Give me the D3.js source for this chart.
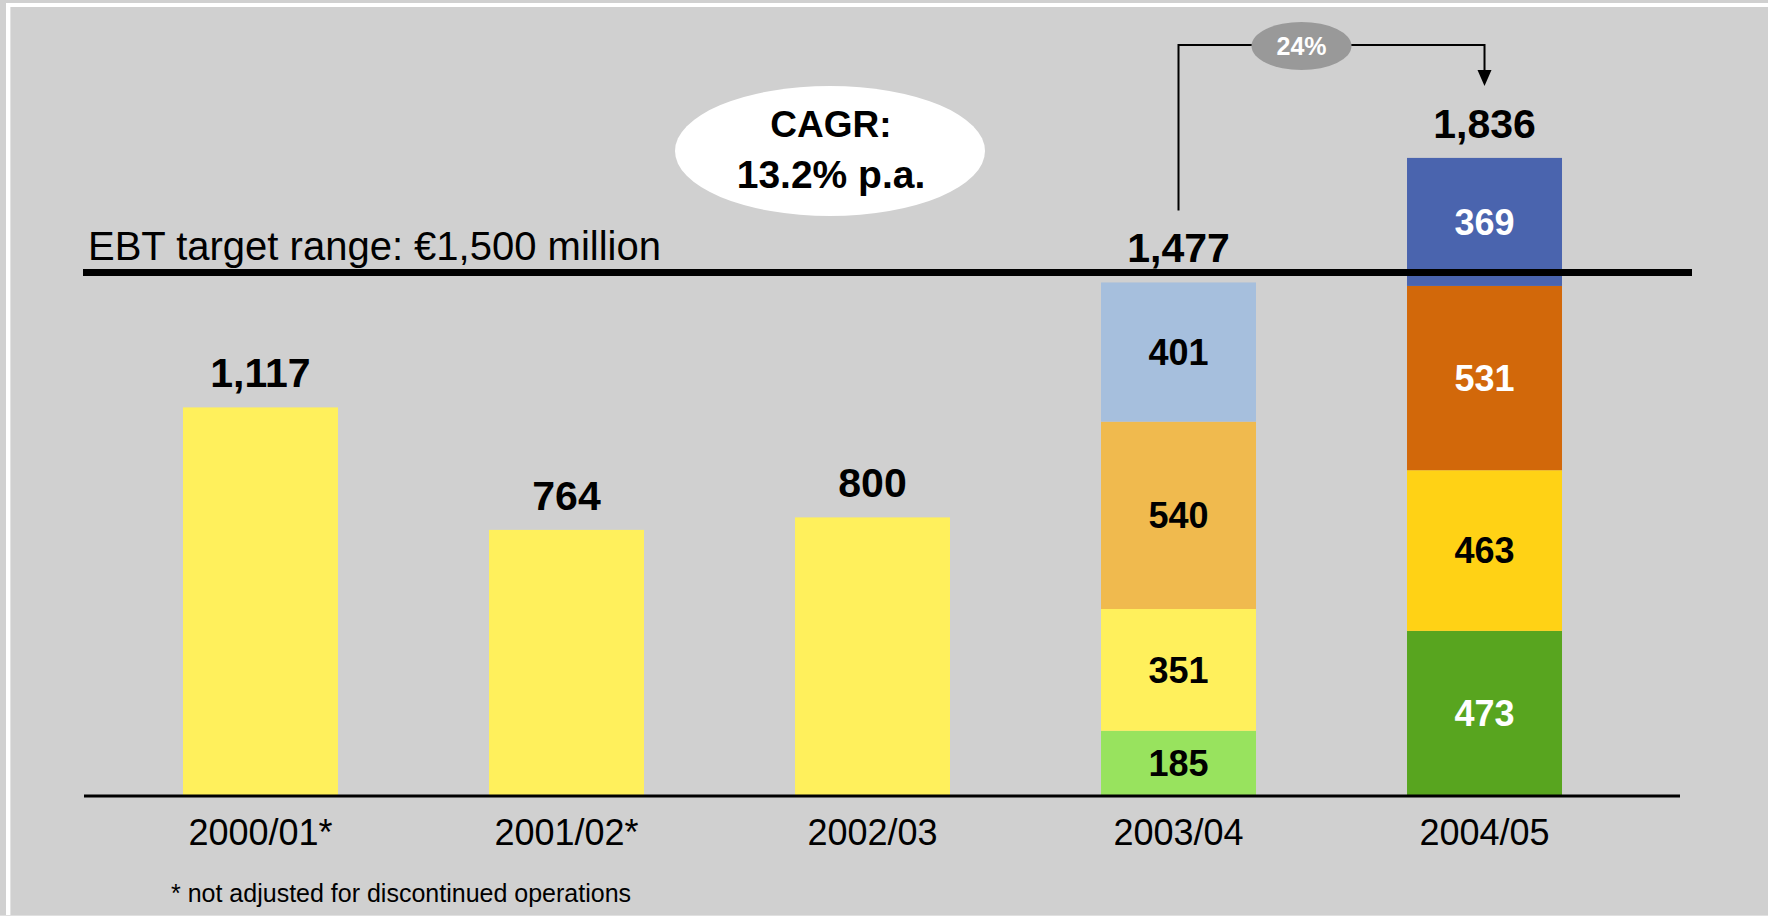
<!DOCTYPE html>
<html>
<head>
<meta charset="utf-8">
<script src="https://cdn.jsdelivr.net/npm/d3@7"></script>
<style>
  html, body { margin: 0; padding: 0; background: #d0d0d0; }
  svg { display: block; font-family: "Liberation Sans", Arial, sans-serif; }
</style>
</head>
<body>
<svg width="1768" height="916"></svg>
<script>
// data
const categories = ["2000/01*", "2001/02*", "2002/03", "2003/04", "2004/05"];
const totals = [1117, 764, 800, 1477, 1836];
const segments = [
  [1117],
  [764],
  [800],
  [185, 351, 540, 401],
  [473, 463, 531, 369]
];
const targetValue = 1500;
const targetLabel = "EBT target range: €1,500 million";
const cagrLines = ["CAGR:", "13.2% p.a."];
const growthLabel = "24%";
const footnote = "* not adjusted for discontinued operations";

// styles
const segColors = [
  ["#fff05c"],
  ["#fff05c"],
  ["#fff05c"],
  ["#98e35e", "#fff05c", "#f0ba4e", "#a6bfdd"],
  ["#58a51f", "#ffd215", "#d2680a", "#4a64ae"]
];
const segText = [
  ["#000"], ["#000"], ["#000"],
  ["#000", "#000", "#000", "#000"],
  ["#fff", "#000", "#fff", "#fff"]
];

var svg = d3.select("svg"),
    width = +svg.attr("width"),
    height = +svg.attr("height");

const fmt = d3.format(",");

// frame
svg.append("rect")
    .attr("width", width).attr("height", height)
    .attr("fill", "#d0d0d0");
svg.append("rect")
    .attr("x", 6).attr("y", 3)
    .attr("width", width).attr("height", 4)
    .attr("fill", "#fff");
svg.append("rect")
    .attr("x", 6).attr("y", 3)
    .attr("width", 4).attr("height", height)
    .attr("fill", "#fff");
svg.append("rect")
    .attr("x", 10).attr("y", 7)
    .attr("width", 1).attr("height", height)
    .attr("fill", "#e2e2e2");
svg.append("rect")
    .attr("x", 0).attr("y", height - 1)
    .attr("width", width).attr("height", 1)
    .attr("fill", "#e0e0e0");

var x = d3.scaleBand()
    .domain(categories)
    .range([107.5, 1637.5])
    .paddingInner(0.4935)
    .paddingOuter(0.2467);

var y = d3.scaleLinear()
    .domain([0, 2000])
    .range([795, 101]);

// stacked data
let rects = [];
segments.forEach((vals, i) => {
  let acc = 0;
  vals.forEach((v, j) => {
    rects.push({cat: categories[i], y0: acc, y1: acc + v, v: v, fill: segColors[i][j], txt: segText[i][j], stacked: vals.length > 1});
    acc += v;
  });
});

let seg = svg.append("g")
    .selectAll("g")
    .data(rects)
    .enter().append("g");

seg.append("rect")
    .attr("x", d => x(d.cat))
    .attr("width", x.bandwidth())
    .attr("y", d => y(d.y1))
    .attr("height", d => y(d.y0) - y(d.y1))
    .attr("fill", d => d.fill);

seg.filter(d => d.stacked)
  .append("text")
    .attr("x", d => x(d.cat) + x.bandwidth() / 2)
    .attr("y", d => (y(d.y0) + y(d.y1)) / 2)
    .attr("dy", "0.36em")
    .attr("text-anchor", "middle")
    .attr("font-size", 36)
    .attr("font-weight", "bold")
    .attr("fill", d => d.txt)
    .text(d => d.v);

// totals
svg.append("g")
    .selectAll("text")
    .data(totals)
    .enter().append("text")
    .attr("x", (d, i) => x(categories[i]) + x.bandwidth() / 2)
    .attr("y", d => y(d) - 20)
    .attr("text-anchor", "middle")
    .attr("font-size", 41)
    .attr("font-weight", "bold")
    .attr("fill", "#000")
    .text(d => fmt(d));

// baseline axis
var xAxis = d3.axisBottom(x).tickSize(0).tickPadding(0);
var gX = svg.append("g")
    .attr("transform", `translate(0,${y(0)})`)
    .call(xAxis);
gX.select(".domain").remove();
gX.selectAll(".tick text")
    .attr("y", 50)
    .attr("dy", 0)
    .attr("font-size", 36)
    .attr("font-family", "Liberation Sans, Arial, sans-serif")
    .attr("fill", "#000");

svg.append("line")
    .attr("x1", 84).attr("x2", 1680)
    .attr("y1", y(0) + 1).attr("y2", y(0) + 1)
    .attr("stroke", "#000")
    .attr("stroke-width", 3);

// target line
svg.append("line")
    .attr("x1", 83).attr("x2", 1692)
    .attr("y1", y(targetValue) - 2).attr("y2", y(targetValue) - 2)
    .attr("stroke", "#000")
    .attr("stroke-width", 7);

svg.append("text")
    .attr("x", 88)
    .attr("y", y(targetValue) - 15)
    .attr("font-size", 40)
    .attr("fill", "#000")
    .text(targetLabel);

// CAGR bubble
svg.append("ellipse")
    .attr("cx", 830).attr("cy", 151)
    .attr("rx", 155).attr("ry", 65)
    .attr("fill", "#fff");

svg.append("g")
    .selectAll("text")
    .data(cagrLines)
    .enter().append("text")
    .attr("x", 831)
    .attr("y", (d, i) => 137 + i * 51)
    .attr("text-anchor", "middle")
    .attr("font-size", (d, i) => i ? 39 : 37)
    .attr("font-weight", "bold")
    .attr("fill", "#000")
    .text(d => d);

// growth arrow 2003/04 -> 2004/05
let cx0 = x(categories[3]) + x.bandwidth() / 2,
    cx1 = x(categories[4]) + x.bandwidth() / 2,
    topY = 45,
    y0End = y(totals[3]) - 72,
    y1End = y(totals[4]) - 72;

svg.append("path")
    .attr("d", `M${cx0},${y0End}V${topY}H${cx1}V${y1End - 15}`)
    .attr("fill", "none")
    .attr("stroke", "#000")
    .attr("stroke-width", 2);

svg.append("path")
    .attr("d", `M${cx1 - 7},${y1End - 16}L${cx1 + 7},${y1End - 16}L${cx1},${y1End}Z`)
    .attr("fill", "#000");

let gx = (cx0 + cx1) / 2 - 30;
svg.append("ellipse")
    .attr("cx", gx).attr("cy", 46)
    .attr("rx", 50).attr("ry", 24)
    .attr("fill", "#999");

svg.append("text")
    .attr("x", gx)
    .attr("y", 55)
    .attr("text-anchor", "middle")
    .attr("font-size", 25)
    .attr("font-weight", "bold")
    .attr("fill", "#fff")
    .text(growthLabel);

// footnote
svg.append("text")
    .attr("x", 171)
    .attr("y", 902)
    .attr("font-size", 25)
    .attr("fill", "#000")
    .text(footnote);
</script>
</body>
</html>
